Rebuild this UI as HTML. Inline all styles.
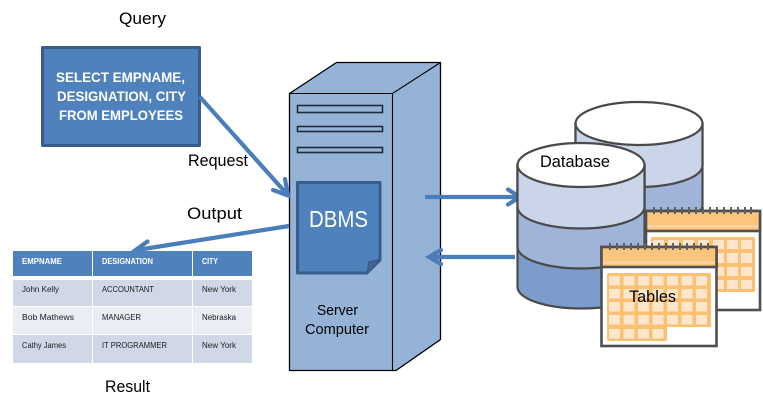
<!DOCTYPE html>
<html>
<head>
<meta charset="utf-8">
<style>
html,body{margin:0;padding:0;background:#fff;}
svg{display:block;}
text{font-family:"Liberation Sans",sans-serif;}
</style>
</head>
<body>
<svg width="763" height="404" viewBox="0 0 763 404" xmlns="http://www.w3.org/2000/svg">
<rect width="763" height="404" fill="#fff"/>

<!-- Query -->
<text x="119" y="24" font-size="17" fill="#000" textLength="47" lengthAdjust="spacingAndGlyphs">Query</text>
<rect x="42.5" y="47.5" width="157" height="98" fill="#4F81BD" stroke="#385D8A" stroke-width="3" stroke-linejoin="round"/>
<g font-size="14" font-weight="bold" fill="#fff">
<text x="56" y="82" textLength="129" lengthAdjust="spacingAndGlyphs">SELECT EMPNAME,</text>
<text x="57" y="101" textLength="129" lengthAdjust="spacingAndGlyphs">DESIGNATION, CITY</text>
<text x="59" y="120" textLength="124" lengthAdjust="spacingAndGlyphs">FROM EMPLOYEES</text>
</g>

<!-- Server -->
<path d="M289.5 93.5 L336.5 62.5 H440.5 V339.5 L396 370.5 H289.5 Z" fill="#95B3D7" stroke="#000" stroke-width="1.3" stroke-linejoin="miter"/>
<path d="M289.5 93.5 H392.5 L440.5 62.5 M392.5 93.5 V370.5" fill="none" stroke="#000" stroke-width="1.1"/>
<g fill="#95B3D7" stroke="#1f2a3a" stroke-width="1.6">
<rect x="297.5" y="105.5" width="85" height="7"/>
<rect x="297.5" y="126.5" width="85" height="5"/>
<rect x="297.5" y="147.5" width="85" height="5"/>
</g>

<!-- DBMS -->
<path d="M297.5 182.5 H380 V260 L367 273 H297.5 Z" fill="#4F81BD" stroke="#385D8A" stroke-width="3" stroke-linejoin="round"/>
<path d="M367 273 L369 262 L380 259.5 Z" fill="#3F6797" stroke="#385D8A" stroke-width="1.5" stroke-linejoin="round"/>
<text x="309" y="227" font-size="23" fill="#fff" textLength="59" lengthAdjust="spacingAndGlyphs">DBMS</text>
<text x="317" y="315" font-size="15" fill="#000" textLength="41" lengthAdjust="spacingAndGlyphs">Server</text>
<text x="305" y="334" font-size="15" fill="#000" textLength="64" lengthAdjust="spacingAndGlyphs">Computer</text>

<!-- Arrows -->
<g fill="none" stroke="#4A7EBB" stroke-width="4.2" stroke-linecap="butt" stroke-linejoin="miter">
<path d="M199.5 96.5 L286 193"/>
<path d="M273 190 L288 195.5 L285 179" stroke-linecap="round"/>
<path d="M289 226 L137 250"/>
<path d="M147.5 241.5 L135 250.5 L149 258" stroke-linecap="round"/>
<path d="M425 197 H518"/>
<path d="M508 189.5 L520 197 L508 204.5" stroke-linecap="round"/>
<path d="M430 257 H515"/>
<path d="M441 250 L429 257 L441 264" stroke-linecap="round"/>
</g>
<text x="188" y="166" font-size="16.5" fill="#000" textLength="60" lengthAdjust="spacingAndGlyphs">Request</text>
<text x="187" y="219" font-size="16.5" fill="#000" textLength="55" lengthAdjust="spacingAndGlyphs">Output</text>

<!-- Table -->
<g>
<rect x="13" y="251" width="79" height="25" fill="#4F81BD"/>
<rect x="93" y="251" width="99" height="25" fill="#4F81BD"/>
<rect x="193" y="251" width="59" height="25" fill="#4F81BD"/>
<rect x="13" y="280" width="79" height="26" fill="#D0D8E8"/>
<rect x="93" y="280" width="99" height="26" fill="#D0D8E8"/>
<rect x="193" y="280" width="59" height="26" fill="#D0D8E8"/>
<rect x="13" y="307" width="79" height="27" fill="#E9EDF4"/>
<rect x="93" y="307" width="99" height="27" fill="#E9EDF4"/>
<rect x="193" y="307" width="59" height="27" fill="#E9EDF4"/>
<rect x="13" y="335" width="79" height="28" fill="#D0D8E8"/>
<rect x="93" y="335" width="99" height="28" fill="#D0D8E8"/>
<rect x="193" y="335" width="59" height="28" fill="#D0D8E8"/>
</g>
<g font-size="8" font-weight="bold" fill="#fff">
<text x="22" y="264" textLength="40" lengthAdjust="spacingAndGlyphs">EMPNAME</text>
<text x="102" y="264" textLength="51" lengthAdjust="spacingAndGlyphs">DESIGNATION</text>
<text x="202" y="264" textLength="16" lengthAdjust="spacingAndGlyphs">CITY</text>
</g>
<g font-size="8" fill="#1a1a1a">
<text x="22" y="292" textLength="37" lengthAdjust="spacingAndGlyphs">John Kelly</text>
<text x="102" y="292" textLength="52" lengthAdjust="spacingAndGlyphs">ACCOUNTANT</text>
<text x="202" y="292" textLength="34" lengthAdjust="spacingAndGlyphs">New York</text>
<text x="22" y="320" textLength="52" lengthAdjust="spacingAndGlyphs">Bob  Mathews</text>
<text x="102" y="320" textLength="39" lengthAdjust="spacingAndGlyphs">MANAGER</text>
<text x="202" y="320" textLength="34" lengthAdjust="spacingAndGlyphs">Nebraska</text>
<text x="22" y="348" textLength="44" lengthAdjust="spacingAndGlyphs">Cathy James</text>
<text x="102" y="348" textLength="65" lengthAdjust="spacingAndGlyphs">IT PROGRAMMER</text>
<text x="202" y="348" textLength="34" lengthAdjust="spacingAndGlyphs">New York</text>
</g>
<text x="105" y="392" font-size="17" fill="#000" textLength="45" lengthAdjust="spacingAndGlyphs">Result</text>

<!-- Back cylinder -->
<g stroke="#4a4a4a" stroke-width="2.2">
<path d="M575.5 123.5 V205 A63.5 21.5 0 0 0 702.5 205 V123.5 Z" fill="#A0B4DA"/>
<path d="M575.5 123.5 V165.5 A63.5 21.5 0 0 0 702.5 165.5 V123.5 Z" fill="#CAD5E9"/>
<ellipse cx="639" cy="123.5" rx="63.5" ry="21.5" fill="#fff"/>
</g>
<!-- Front cylinder -->
<g stroke="#4a4a4a" stroke-width="2.2">
<path d="M517.5 165 V287 A63.5 21.5 0 0 0 644.5 287 V165 Z" fill="#7C9CCB"/>
<path d="M517.5 165 V247 A63.5 21.5 0 0 0 644.5 247 V165 Z" fill="#A0B4DA"/>
<path d="M517.5 165 V207 A63.5 21.5 0 0 0 644.5 207 V165 Z" fill="#CAD5E9"/>
<ellipse cx="581" cy="165" rx="63.5" ry="22" fill="#fff"/>
</g>
<text x="540" y="167" font-size="17" fill="#000" textLength="70" lengthAdjust="spacingAndGlyphs">Database</text>

<!-- Back calendar -->
<g>
<rect x="646" y="211" width="114" height="99" fill="#fff" stroke="#505050" stroke-width="2.6"/>
<rect x="646" y="211" width="114" height="20" fill="#FBC57E" stroke="#505050" stroke-width="2.6"/>
<rect x="648" y="225" width="110" height="3" fill="#FDD29B"/>
<g stroke="#606060" stroke-width="2">
<path d="M654 207V214M661 207V214M668 207V214M675 207V214M682 207V214M689 207V214M696 207V214M703 207V214M710 207V214M717 207V214M724 207V214M731 207V214M738 207V214M745 207V214M751 207V214"/>
</g>
<rect x="651" y="237" width="104" height="55" rx="2" fill="#FBC071"/>
<g fill="#FEE6CC">
<rect x="653" y="240" width="11" height="9"/><rect x="668" y="240" width="11" height="9"/><rect x="683" y="240" width="11" height="9"/><rect x="698" y="240" width="11" height="9"/><rect x="713" y="240" width="11" height="9"/><rect x="727" y="240" width="11" height="9"/><rect x="741" y="240" width="11" height="9"/>
<rect x="713" y="253" width="11" height="10"/><rect x="727" y="253" width="11" height="10"/><rect x="741" y="253" width="11" height="10"/>
<rect x="713" y="267" width="11" height="9"/><rect x="727" y="267" width="11" height="9"/><rect x="741" y="267" width="11" height="9"/>
<rect x="713" y="280" width="11" height="9"/><rect x="727" y="280" width="11" height="9"/><rect x="741" y="280" width="11" height="9"/>
</g>
</g>

<!-- Front calendar -->
<g>
<rect x="601.5" y="247" width="115" height="99" fill="#fff" stroke="#505050" stroke-width="2.6"/>
<rect x="601.5" y="247" width="115" height="20" fill="#FBC57E" stroke="#505050" stroke-width="2.6"/>
<rect x="603" y="261" width="112" height="3" fill="#FDD29B"/>
<g stroke="#606060" stroke-width="2">
<path d="M610 243V250M617 243V250M624 243V250M631 243V250M638 243V250M645 243V250M652 243V250M659 243V250M666 243V250M673 243V250M680 243V250M687 243V250M694 243V250M701 243V250M708 243V250"/>
</g>
<path d="M607 275 a2 2 0 0 1 2 -2 H709 a2 2 0 0 1 2 2 V327 H667 V339 a2 2 0 0 1 -2 2 H609 a2 2 0 0 1 -2 -2 Z" fill="#FBC071"/>
<g fill="#FEE6CC">
<rect x="609" y="276" width="11" height="9.5"/><rect x="623.5" y="276" width="11" height="9.5"/><rect x="638" y="276" width="11" height="9.5"/><rect x="652.5" y="276" width="11" height="9.5"/><rect x="667" y="276" width="11" height="9.5"/><rect x="681.5" y="276" width="11" height="9.5"/><rect x="696" y="276" width="11" height="9.5"/>
<rect x="609" y="289" width="11" height="9.5"/><rect x="623.5" y="289" width="11" height="9.5"/><rect x="638" y="289" width="11" height="9.5"/><rect x="652.5" y="289" width="11" height="9.5"/><rect x="667" y="289" width="11" height="9.5"/><rect x="681.5" y="289" width="11" height="9.5"/><rect x="696" y="289" width="11" height="9.5"/>
<rect x="609" y="302" width="11" height="9.5"/><rect x="623.5" y="302" width="11" height="9.5"/><rect x="638" y="302" width="11" height="9.5"/><rect x="652.5" y="302" width="11" height="9.5"/><rect x="667" y="302" width="11" height="9.5"/><rect x="681.5" y="302" width="11" height="9.5"/><rect x="696" y="302" width="11" height="9.5"/>
<rect x="609" y="315" width="11" height="9.5"/><rect x="623.5" y="315" width="11" height="9.5"/><rect x="638" y="315" width="11" height="9.5"/><rect x="652.5" y="315" width="11" height="9.5"/><rect x="667" y="315" width="11" height="9.5"/><rect x="681.5" y="315" width="11" height="9.5"/><rect x="696" y="315" width="11" height="9.5"/>
<rect x="609" y="329" width="11" height="9.5"/><rect x="623.5" y="329" width="11" height="9.5"/><rect x="638" y="329" width="11" height="9.5"/><rect x="652.5" y="329" width="11" height="9.5"/>
</g>
</g>
<text x="629" y="302" font-size="17" fill="#000" textLength="47" lengthAdjust="spacingAndGlyphs">Tables</text>
</svg>
</body>
</html>
